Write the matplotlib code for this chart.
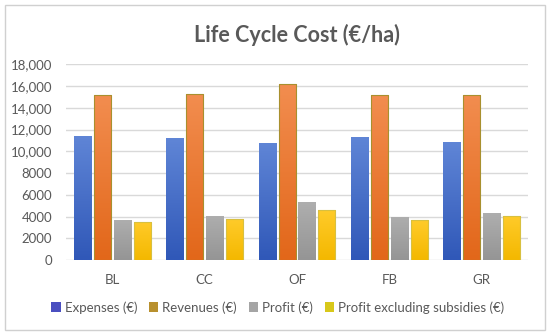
import matplotlib
matplotlib.use("Agg")
import matplotlib.pyplot as plt
import numpy as np
from matplotlib.colors import LinearSegmentedColormap
from matplotlib.patches import Patch, Rectangle

plt.rcParams['font.family'] = ['Lato', 'DejaVu Sans']

categories = ["BL", "CC", "OF", "FB", "GR"]
series_names = ["Expenses (€)", "Revenues (€)", "Profit (€)",
                "Profit excluding subsidies (€)"]
expenses = [11450, 11200, 10800, 11330, 10860]
revenues = [15170, 15320, 16200, 15230, 15230]
profit = [3700, 4060, 5330, 3970, 4280]
profit_excl = [3500, 3750, 4590, 3660, 4090]
yticks = [0, 2000, 4000, 6000, 8000, 10000, 12000, 14000, 16000, 18000]
ytick_labels = ["0", "2000", "4000", "6000", "8000", "10,000", "12,000",
                "14,000", "16,000", "18,000"]

# gradient (top, bottom), legend swatch colour, edge colour
styles = [
    (("#5F85D6", "#3058B8"), "#4A4FC0", None),
    (("#F28D4F", "#E2671A"), "#B8902E", "#A8902E"),
    (("#AEAEAE", "#959595"), "#A5A5A5", None),
    (("#FFCB2A", "#F4B800"), "#D8C81A", "#D8C040"),
]

fig = plt.figure(figsize=(5.5, 3.34), dpi=100)
fig.patches.append(Rectangle((0.009, 0.012), 0.982, 0.973, transform=fig.transFigure,
                             fill=False, edgecolor="#D0D0D0", linewidth=1.0))
ax = fig.add_axes([0.12, 0.2216, 0.84, 0.5854])

x = np.arange(len(categories))
step = 0.216
width = 0.184
data = [expenses, revenues, profit, profit_excl]
grad = np.linspace(0, 1, 64).reshape(-1, 1)

for i, vals in enumerate(data):
    (top, bot), _, edge = styles[i]
    cmap = LinearSegmentedColormap.from_list("g%d" % i, [top, bot])
    bars = ax.bar(x + (i - 1.5) * step, vals, width, color="none",
                  edgecolor="none", zorder=3)
    for b in bars:
        x0, y0 = b.get_x(), b.get_y()
        w, h = b.get_width(), b.get_height()
        im = ax.imshow(grad, cmap=cmap, aspect="auto", extent=(x0, x0 + w, y0, y0 + h),
                       origin="upper", zorder=3)
        im.set_clip_path(b)
        if edge:
            ax.add_patch(Rectangle((x0, y0), w, h, fill=False, edgecolor=edge,
                                   linewidth=0.8, zorder=4))

ax.set_xlim(-0.5, len(categories) - 0.5)
ax.set_ylim(0, 18000)
ax.set_yticks(yticks)
ax.set_yticklabels(ytick_labels)
ax.set_xticks(x)
ax.set_xticklabels(categories)
ax.tick_params(length=0, labelsize=9.5, colors="#595959")
ax.tick_params(axis="x", pad=10)
ax.tick_params(axis="y", pad=10)
ax.grid(axis="y", color="#D9D9D9", linewidth=1.0, zorder=0)
ax.set_axisbelow(True)
for s in ax.spines.values():
    s.set_visible(False)

ax.set_title("Life Cycle Cost (€/ha)", fontsize=15.5, fontweight="bold",
             color="#595959", pad=16)

handles = [Patch(facecolor=st[1], edgecolor="none") for st in styles]
fig.legend(handles, series_names, loc="center", bbox_to_anchor=(0.505, 0.08),
           ncol=4, frameon=False, fontsize=9.5, labelcolor="#595959",
           handlelength=0.7, handleheight=0.7, handletextpad=0.3,
           columnspacing=0.9)

fig.savefig("out.png", dpi=100)
